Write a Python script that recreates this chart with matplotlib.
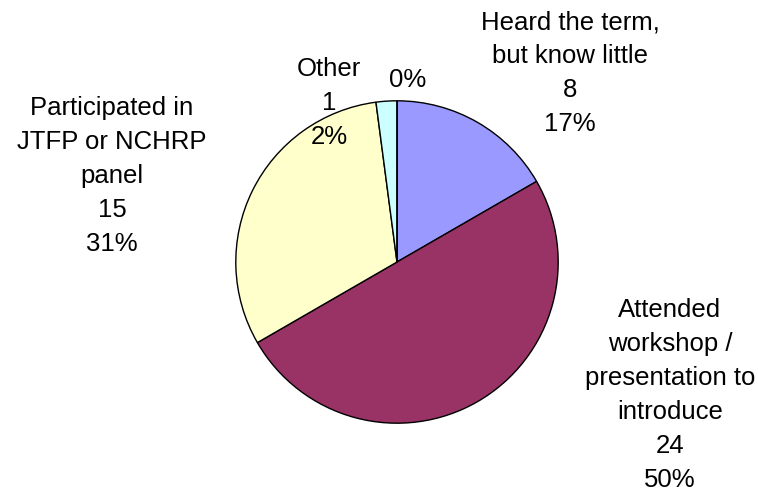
import matplotlib
matplotlib.use("Agg")
import matplotlib.pyplot as plt

# Survey responses, clockwise from 12 o'clock
categories = [
    "Heard the term,\nbut know little",
    "Attended\nworkshop /\npresentation to\nintroduce",
    "Participated in\nJTFP or NCHRP\npanel",
    "Other",
    "",
]
counts = [8, 24, 15, 1, 0]
colors = ["#9999FF", "#993366", "#FFFFCC", "#CCFFFF", "#FFFFFF"]

# label block centres in pixel coordinates (x from left, y from top)
label_pos = [(570, 73), (670, 395), (112, 176), (329, 103), (408, 80)]

W, H = 758, 495
fig = plt.figure(figsize=(W / 100, H / 100), dpi=100)
plt.rcParams["font.family"] = ["Liberation Sans", "DejaVu Sans"]

cx, cy, r = 397, 262, 162
ax = fig.add_axes([(cx - r) / W, (H - cy - r) / H, 2 * r / W, 2 * r / H])
ax.pie(
    counts,
    colors=colors,
    startangle=90,
    counterclock=False,
    wedgeprops=dict(edgecolor="black", linewidth=1.0),
)
ax.set_xlim(-1.005, 1.005)
ax.set_ylim(-1.005, 1.005)
ax.set_aspect("equal")
ax.axis("off")

total = sum(counts)
for name, n, (x, y) in zip(categories, counts, label_pos):
    pct = f"{round(100 * n / total):.0f}%"
    if n == 0:
        text = pct
    else:
        text = f"{name}\n{n}\n{pct}"
    fig.text(x / W, 1 - y / H, text, ha="center", va="center",
             fontsize=18.5, linespacing=1.52, color="black",
             multialignment="center")

fig.savefig("out.png", dpi=100, facecolor="white")
